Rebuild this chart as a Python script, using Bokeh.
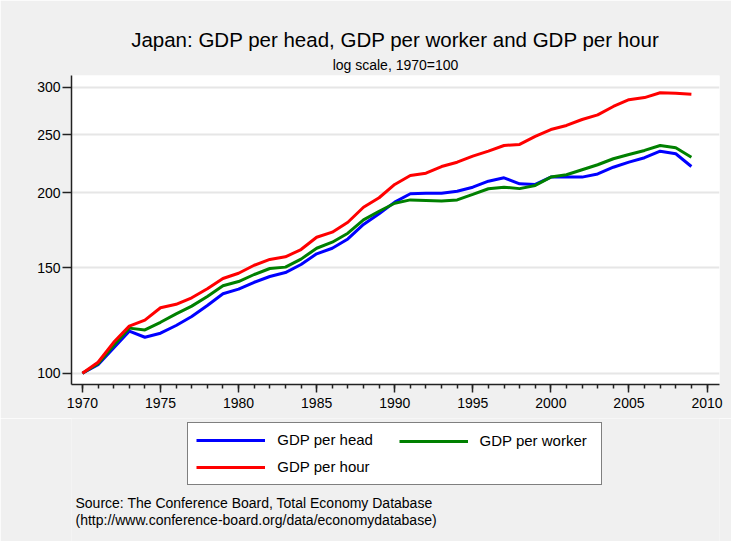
from bokeh.plotting import figure
from bokeh.layouts import column
from bokeh.models import (Range1d, FixedTicker, PrintfTickFormatter, Title, Label,
                          Legend, LegendItem)
from bokeh.embed import file_html
from bokeh.resources import INLINE

years = list(range(1970, 2010))
gdp_per_head = [100, 103.3, 110.2, 117.5, 114.8, 116.6, 120.1, 124.3, 129.7, 135.7,
                138.1, 141.8, 145.0, 147.2, 151.8, 158.2, 161.6, 167.5, 177.1, 184.5,
                192.9, 199.2, 199.7, 199.7, 201.2, 204.3, 209.1, 211.8, 207.0, 206.5,
                212.4, 212.4, 212.4, 215.0, 220.6, 225.0, 228.8, 234.6, 232.3, 221.2]
gdp_per_worker = [100, 103.7, 111.2, 118.9, 118.1, 121.6, 125.6, 129.4, 134.3, 139.9,
                  142.2, 146.1, 149.5, 150.3, 155.0, 161.6, 165.4, 171.2, 180.2, 186.3,
                  192.1, 194.6, 194.2, 193.7, 194.6, 198.7, 203.1, 204.3, 203.2, 205.7,
                  212.4, 214.3, 218.5, 222.7, 227.9, 231.7, 235.3, 239.8, 237.7, 229.3]
gdp_per_hour = [100, 104.3, 112.6, 119.8, 122.6, 128.6, 130.3, 133.6, 138.3, 143.9,
                146.8, 151.4, 154.8, 156.4, 160.8, 168.6, 171.9, 178.6, 189.2, 196.2,
                206.5, 213.7, 215.6, 221.2, 224.9, 230.2, 234.7, 239.8, 240.8, 248.3,
                255.0, 259.0, 265.0, 269.8, 278.6, 285.9, 288.3, 293.7, 293.2, 292.1]
series_names = ["GDP per head", "GDP per worker", "GDP per hour"]
series_colors = ["#0000FF", "#008000", "#FF0000"]
y_ticks = [100, 150, 200, 250, 300]
x_ticks = [1970, 1975, 1980, 1985, 1990, 1995, 2000, 2005, 2010]

title_text = "Japan: GDP per head, GDP per worker and GDP per hour"
subtitle_text = "log scale, 1970=100"
note_lines = ["Source: The Conference Board, Total Economy Database",
              "(http://www.conference-board.org/data/economydatabase)"]

FONT = "Liberation Sans"
BG = "#F0F0F0"
W = 731
H = 541
H1 = 418
H2 = H - H1
FRAME_LEFT = 71
series = [gdp_per_head, gdp_per_worker, gdp_per_hour]

# ---------------- main chart ----------------
p = figure(width=W, height=H1, output_backend="svg", toolbar_location=None,
           y_axis_type="log",
           x_range=Range1d(1969.3, 2010.8), y_range=Range1d(95.75, 313.8),
           min_border_left=FRAME_LEFT, min_border_right=12, min_border_top=75,
           min_border_bottom=H1 - 384)
p.background_fill_color = "white"
p.border_fill_color = BG
p.outline_line_color = None

for vals, col in zip(series, series_colors):
    p.line(years, vals, line_color=col, line_width=3)

xa = p.xaxis[0]
xa.ticker = FixedTicker(ticks=x_ticks, minor_ticks=years + [2010])
xa.axis_line_color = "#222222"
xa.axis_line_width = 1.5
xa.major_tick_in = 0
xa.major_tick_out = 8
xa.minor_tick_in = 0
xa.minor_tick_out = 4
xa.major_tick_line_color = "#222222"
xa.minor_tick_line_color = "#222222"
xa.major_tick_line_width = 1.5
xa.minor_tick_line_width = 1.5
xa.major_label_text_font = FONT
xa.major_label_text_font_size = "14px"
xa.major_label_text_color = "black"
xa.major_label_standoff = 5

ya = p.yaxis[0]
ya.ticker = FixedTicker(ticks=y_ticks, minor_ticks=[])
ya.formatter = PrintfTickFormatter(format="%d")
ya.axis_line_color = "#222222"
ya.axis_line_width = 1.5
ya.major_tick_in = 0
ya.major_tick_out = 9
ya.minor_tick_line_color = None
ya.major_tick_line_color = "#222222"
ya.major_tick_line_width = 1.5
ya.major_label_text_font = FONT
ya.major_label_text_font_size = "14px"
ya.major_label_text_color = "black"
ya.major_label_standoff = 2
ya.major_label_orientation = "horizontal"

p.xgrid.grid_line_color = None
p.ygrid.grid_line_color = "#E6E6E6"
p.ygrid.grid_line_width = 2
p.ygrid.ticker = FixedTicker(ticks=y_ticks)

p.add_layout(Title(text=subtitle_text, align="center", text_font=FONT,
                   text_font_size="14px", text_font_style="normal",
                   text_color="black", standoff=5), "above")
p.add_layout(Title(text=title_text, align="center", text_font=FONT,
                   text_font_size="20.5px", text_font_style="normal",
                   text_color="black", standoff=3), "above")

# ---------------- legend + source note panel ----------------
q = figure(width=W, height=H2, output_backend="svg", toolbar_location=None,
           x_range=Range1d(0, W), y_range=Range1d(0, H2),
           x_axis_location=None, y_axis_location=None,
           min_border_left=0, min_border_right=0, min_border_top=0,
           min_border_bottom=0)
q.background_fill_color = BG
q.border_fill_color = BG
q.outline_line_color = None
q.xgrid.grid_line_color = None
q.ygrid.grid_line_color = None

# legend proxies: same series, outside this panel's visible ranges
proxies = [q.line(years, vals, line_color=col, line_width=3)
           for vals, col in zip(series, series_colors)]

common = dict(label_text_font=FONT, label_text_font_size="15px",
              label_text_color="black",
              glyph_width=69, glyph_height=18, label_height=18,
              label_standoff=12, spacing=9, padding=8, margin=0)

# the column layout aligns this panel's frame with the chart's frame (left = 71)
leg_a = Legend(items=[LegendItem(label=series_names[0], renderers=[proxies[0]]),
                      LegendItem(label=series_names[2], renderers=[proxies[2]])],
               location=(187.3 - FRAME_LEFT, H - 484.8), orientation="vertical",
               label_width=316,
               border_line_color="black", border_line_width=1.2,
               background_fill_color="white", background_fill_alpha=1.0,
               **common)
leg_b = Legend(items=[LegendItem(label=series_names[1], renderers=[proxies[1]])],
               location=(398.5 - FRAME_LEFT, H - 449.5), orientation="vertical",
               label_width=100,
               border_line_color=None, background_fill_alpha=0.0,
               **common)
q.add_layout(leg_a, "center")
q.add_layout(leg_b, "center")

for line, base in zip(note_lines, [502.7, 519.3]):
    q.add_layout(Label(x=75 - FRAME_LEFT, y=H - base, x_units="screen", y_units="screen",
                       text=line, text_font=FONT, text_font_size="14px",
                       text_align="left", text_baseline="alphabetic",
                       text_color="black"))

layout = column(p, q, spacing=0)
open("out.html", "w").write(file_html(layout, INLINE))
